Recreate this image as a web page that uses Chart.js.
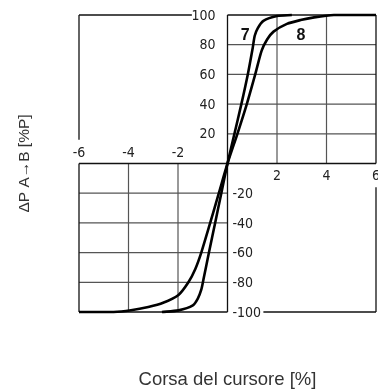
<!DOCTYPE html>
<html>
<head>
<meta charset="utf-8">
<script src="https://cdn.jsdelivr.net/npm/chart.js@4.4.1/dist/chart.umd.min.js"></script>
<style>
  html, body { margin: 0; padding: 0; background: #fff; }
  canvas { display: block; }
</style>
</head>
<body>
<canvas id="chart" width="378" height="389"></canvas>
<script>
// curve 7 (steeper spool)
const curve7X = [-2.65, -1.98, -1.4, -1.2, -1.06, -0.97, -0.75, -0.5, -0.25, 0, 0.28, 0.56, 0.82, 1.02, 1.1, 1.22, 1.45, 2.0, 2.6];
const curve7Y = [-100, -98.9, -95.5, -91, -85, -78, -60, -40, -20, 0, 20, 40, 60, 78, 86, 91, 96, 99.3, 100];
// curve 8
const curve8X = [-6, -4.6, -3.9, -3.2, -2.6, -1.98, -1.58, -1.3, -1.06, -0.7, -0.35, 0, 0.4, 0.78, 1.12, 1.38, 1.6, 1.86, 2.4, 2.95, 3.5, 4.3, 6];
const curve8Y = [-100, -100, -98.8, -96.6, -93.8, -88.5, -80, -71, -60, -40, -20, 0, 20, 40, 60, 76, 83.5, 88.8, 94, 96.6, 98.4, 100, 100];

const xTicks = [-6, -4, -2, 2, 4, 6];
const yTicks = [-100, -80, -60, -40, -20, 20, 40, 60, 80, 100];

const curveNames = ['7', '8'];
const nameX = [0.72, 2.97];
const nameY = [86, 86];

const xTitle = 'Corsa del cursore [%]';
const yTitle = 'ΔP A→B [%P]';

const toPoints = (xs, ys) => xs.map((x, i) => ({ x: x, y: ys[i] }));

// custom cross-shaped axes: grid only in two quadrants, labels on alternating sides
const crossAxes = {
    id: 'crossAxes',
    beforeDatasetsDraw(chart) {
        const ctx = chart.ctx;
        const sx = chart.scales.x, sy = chart.scales.y;
        const X = v => sx.getPixelForValue(v);
        const Y = v => sy.getPixelForValue(v);
        const seg = (x1, y1, x2, y2) => {
            ctx.beginPath();
            ctx.moveTo(X(x1), Y(y1));
            ctx.lineTo(X(x2), Y(y2));
            ctx.stroke();
        };
        ctx.save();

        // inner grid lines
        ctx.strokeStyle = '#555';
        ctx.lineWidth = 1.2;
        xTicks.forEach(t => {
            if (t > 0 && t < 6) seg(t, 0, t, 100);
            if (t < 0 && t > -6) seg(t, -100, t, 0);
        });
        yTicks.forEach(t => {
            if (t > 0 && t < 100) seg(0, t, 6, t);
            if (t < 0 && t > -100) seg(-6, t, 0, t);
        });

        // frames
        ctx.strokeStyle = '#111';
        ctx.lineWidth = 1.3;
        seg(0, 100, 6, 100);
        seg(6, 0, 6, 100);
        seg(-6, -100, 0, -100);
        seg(-6, -100, -6, 0);
        // partial frames in the empty quadrants
        seg(-6, 100, -1.44, 100);
        seg(-6, 16, -6, 100);
        seg(1.45, -100, 6, -100);
        seg(6, -100, 6, -16);
        // main axes
        seg(0, -100, 0, 100);
        seg(-6, 0, 6, 0);

        // tick labels
        ctx.fillStyle = '#222';
        ctx.font = '14px "DejaVu Sans", sans-serif';
        if ('fontStretch' in ctx) ctx.fontStretch = 'condensed';
        ctx.textBaseline = 'middle';
        ctx.textAlign = 'center';
        xTicks.forEach(t => {
            if (t < 0) ctx.fillText(String(t), X(t), Y(0) - 10);
            else ctx.fillText(String(t), X(t), Y(0) + 13);
        });
        yTicks.forEach(t => {
            if (t > 0) {
                ctx.textAlign = 'right';
                ctx.fillText(String(t), X(0) - 12, Y(t) + 1);
            } else {
                ctx.textAlign = 'left';
                ctx.fillText(String(t), X(0) + 5, Y(t) + 1);
            }
        });
        ctx.restore();
    },
    afterDatasetsDraw(chart) {
        const ctx = chart.ctx;
        const sx = chart.scales.x, sy = chart.scales.y;
        ctx.save();
        // curve names
        ctx.fillStyle = '#111';
        ctx.font = 'bold 16px "Liberation Sans", Arial, sans-serif';
        ctx.textAlign = 'center';
        ctx.textBaseline = 'middle';
        curveNames.forEach((n, i) => {
            ctx.fillText(n, sx.getPixelForValue(nameX[i]), sy.getPixelForValue(nameY[i]));
        });
        // axis titles
        ctx.fillStyle = '#333';
        ctx.font = '18.5px "Liberation Sans", Arial, sans-serif';
        ctx.fillText(xTitle, sx.getPixelForValue(0), 380);
        ctx.translate(25, sy.getPixelForValue(0));
        ctx.rotate(-Math.PI / 2);
        ctx.font = '15.5px "Liberation Sans", "DejaVu Sans", sans-serif';
        ctx.fillText(yTitle, 0, 0);
        ctx.restore();
    }
};

const ctx = document.getElementById('chart').getContext('2d');

new Chart(ctx, {
    type: 'scatter',
    data: {
        datasets: [
            {
                label: '7',
                data: toPoints(curve7X, curve7Y),
                showLine: true,
                borderColor: '#000',
                borderWidth: 2.6,
                pointRadius: 0,
                tension: 0.25,
                clip: false
            },
            {
                label: '8',
                data: toPoints(curve8X, curve8Y),
                showLine: true,
                borderColor: '#000',
                borderWidth: 2.6,
                pointRadius: 0,
                tension: 0.25,
                clip: false
            }
        ]
    },
    options: {
        responsive: false,
        animation: false,
        layout: {
            padding: { left: 79, right: 2, top: 15, bottom: 77 }
        },
        plugins: {
            legend: { display: false },
            tooltip: { enabled: false }
        },
        scales: {
            x: { type: 'linear', min: -6, max: 6, display: false },
            y: { type: 'linear', min: -100, max: 100, display: false }
        }
    },
    plugins: [crossAxes]
});
</script>
</body>
</html>
